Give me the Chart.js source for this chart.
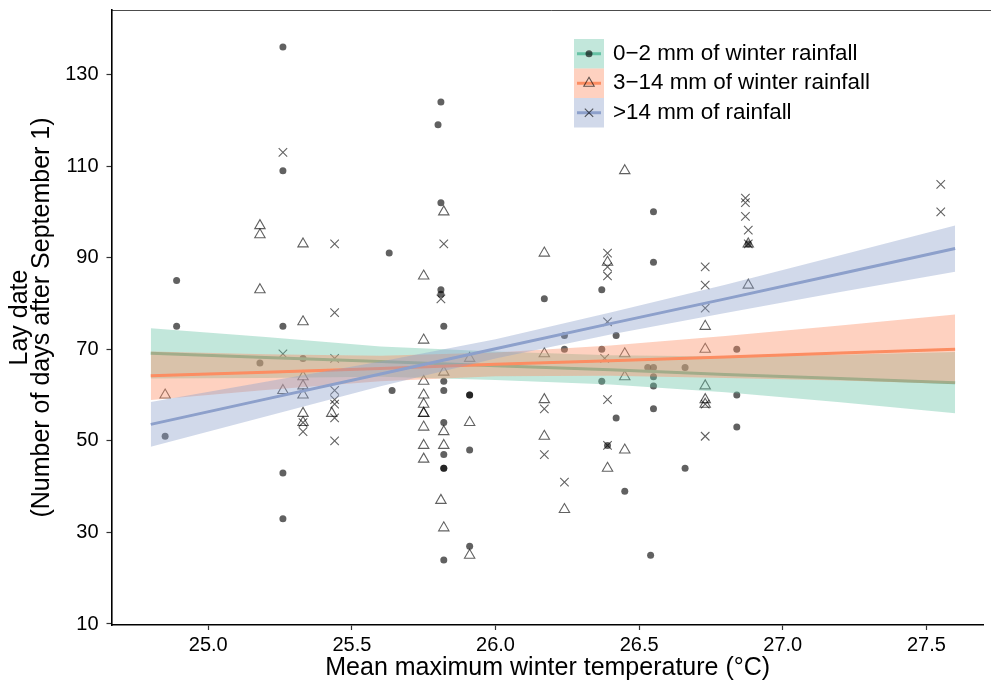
<!DOCTYPE html>
<html>
<head>
<meta charset="utf-8">
<script src="https://cdn.jsdelivr.net/npm/chart.js@4/dist/chart.umd.min.js"></script>
<style>
  html, body { margin: 0; padding: 0; background: #fff; }
  canvas { display: block; }
</style>
</head>
<body>
<canvas id="chart-laydate" width="991" height="684"></canvas>
<script>
// observed lay dates, one pair of arrays per rainfall class
const dryX = [24.89, 24.89, 24.85, 25.26, 25.26, 25.26, 25.26, 25.26, 25.18, 25.33,
  25.63, 25.64, 25.81, 25.80, 25.81, 25.81, 25.81, 25.82, 25.82, 25.82, 25.82, 25.82, 25.82, 25.82, 25.82,
  25.91, 25.91, 25.91, 25.91, 26.17, 26.24, 26.24,
  26.37, 26.37, 26.37, 26.39, 26.42, 26.42, 26.45,
  26.55, 26.55, 26.53, 26.55, 26.55, 26.55, 26.55, 26.54,
  26.66, 26.66, 26.84, 26.84, 26.84, 26.88]
const dryY = [85, 75, 51, 136, 109, 75, 43, 33, 67, 68,
  91, 61, 124, 119, 102, 83, 82, 75, 63, 61, 54, 47, 44, 44, 24,
  60, 60, 48, 27, 81, 73, 70,
  83, 70, 63, 49, 73, 55, 39,
  100, 89, 66, 66, 64, 62, 57, 25,
  66, 44, 70, 60, 53, 93]

const midX = [24.85, 25.18, 25.18, 25.18, 25.26,
  25.33, 25.33, 25.33, 25.33, 25.33, 25.33, 25.33, 25.43,
  25.75, 25.75, 25.75, 25.75, 25.75, 25.75, 25.75, 25.75, 25.75, 25.75,
  25.82, 25.82, 25.82, 25.82, 25.81, 25.82,
  25.91, 25.91, 25.91, 26.17, 26.17, 26.17, 26.17, 26.24,
  26.39, 26.39, 26.45, 26.45, 26.45, 26.45,
  26.73, 26.73, 26.73, 26.73, 26.73, 26.88, 26.88]
const midY = [60, 97, 95, 83, 61,
  93, 76, 64, 62, 60, 56, 54, 56,
  86, 72, 63, 60, 58, 56, 56, 53, 49, 46,
  100, 65, 52, 49, 37, 31,
  68, 54, 25, 91, 69, 59, 51, 35,
  89, 44, 109, 69, 64, 48,
  75, 70, 62, 59, 58, 93, 84]

const wetX = [25.26, 25.26, 25.33, 25.33,
  25.44, 25.44, 25.44, 25.44, 25.44, 25.44, 25.44, 25.44,
  25.82, 25.81, 26.17, 26.17, 26.24,
  26.39, 26.39, 26.39, 26.39, 26.38, 26.39, 26.39,
  26.73, 26.73, 26.73, 26.73, 26.73,
  26.87, 26.87, 26.87, 26.88, 26.88, 27.55, 27.55]
const wetY = [113, 69, 54, 52,
  93, 78, 68, 61, 59, 58, 55, 50,
  93, 81, 57, 47, 41,
  91, 88, 86, 76, 68, 59, 49,
  88, 84, 79, 58, 51,
  103, 102, 99, 96, 93, 106, 100]

// fitted lines and confidence bands, read at these temperatures
const fitX = [24.8, 25.2, 25.6, 26.0, 26.4, 26.8, 27.2, 27.6]
const dryFit = [69.1, 68.2, 67.3, 66.4, 65.5, 64.5, 63.6, 62.7]
const dryLo  = [63.6, 63.7, 64.0, 63.3, 62.3, 60.6, 58.4, 56.0]
const dryHi  = [74.6, 72.7, 70.6, 69.5, 68.7, 68.4, 68.8, 69.4]
const midFit = [64.2, 65.0, 65.8, 66.7, 67.5, 68.3, 69.2, 70.0]
const midLo  = [58.9, 61.1, 63.0, 64.1, 64.2, 63.7, 63.2, 62.4]
const midHi  = [69.5, 68.9, 68.6, 69.3, 70.8, 72.9, 75.2, 77.6]
const wetFit = [53.6, 59.1, 64.6, 70.1, 75.6, 81.0, 86.5, 92.0]
const wetLo  = [48.7, 55.3, 61.9, 68.0, 73.2, 77.9, 82.5, 86.9]
const wetHi  = [58.5, 62.9, 67.3, 72.2, 78.0, 84.1, 90.5, 97.0]

const xTicks = [25.0, 25.5, 26.0, 26.5, 27.0, 27.5]
const yTicks = [10, 30, 50, 70, 90, 110, 130]
const groupNames = ['0\u22122 mm of winter rainfall', '3\u221214 mm of winter rainfall', '>14 mm of rainfall']

const lineColors = ['#66C2A5', '#FC8D62', '#8DA0CB']
const bandColors = ['rgba(102,194,165,0.4)', 'rgba(252,141,98,0.4)', 'rgba(141,160,203,0.4)']
const ink = 'rgba(0,0,0,0.62)'

Chart.defaults.font.family = '"Liberation Sans", Arial, sans-serif'
Chart.defaults.color = '#000'

function pts(xs, ys){
  return xs.map((x, i) => ({x: x, y: ys[i]}))
}

function bandSets(lo, hi, color, order){
  return [
    {type: 'line', data: pts(fitX, hi), borderColor: 'rgba(0,0,0,0)', borderWidth: 0,
     pointRadius: 0, fill: '+1', backgroundColor: color, order: order},
    {type: 'line', data: pts(fitX, lo), borderColor: 'rgba(0,0,0,0)', borderWidth: 0,
     pointRadius: 0, fill: false, order: order}
  ]
}

function fitSet(ys, color, order){
  return {type: 'line', data: pts(fitX, ys), borderColor: color, borderWidth: 3,
    pointRadius: 0, fill: false, order: order}
}

// small drawing helpers for the key symbols
function markDot(ctx, x, y){
  ctx.fillStyle = ink
  ctx.beginPath(); ctx.arc(x, y, 3.5, 0, Math.PI*2); ctx.fill()
}
function markTri(ctx, x, y){
  const r = 6
  ctx.strokeStyle = ink; ctx.lineWidth = 1.1
  ctx.beginPath()
  ctx.moveTo(x, y - r)
  ctx.lineTo(x + r*0.866, y + r/2)
  ctx.lineTo(x - r*0.866, y + r/2)
  ctx.closePath(); ctx.stroke()
}
function markCross(ctx, x, y){
  const d = 4.2
  ctx.strokeStyle = ink; ctx.lineWidth = 1.1
  ctx.beginPath()
  ctx.moveTo(x - d, y - d); ctx.lineTo(x + d, y + d)
  ctx.moveTo(x + d, y - d); ctx.lineTo(x - d, y + d)
  ctx.stroke()
}

const keyPlugin = {
  id: 'groupKey',
  afterDraw(chart){
    const ctx = chart.ctx
    const area = chart.chartArea
    ctx.save()
    // thin frame line along the top
    ctx.strokeStyle = 'rgba(0,0,0,0.7)'
    ctx.lineWidth = 1
    ctx.beginPath(); ctx.moveTo(area.left, area.top + 0.5); ctx.lineTo(chart.width, area.top + 0.5); ctx.stroke()

    const x0 = 574, w = 30, h = 29.5, y0 = 39
    const marks = [markDot, markTri, markCross]
    for (let i = 0; i < 3; i++){
      const y = y0 + i*h
      const cy = y + h/2
      ctx.fillStyle = bandColors[i]
      ctx.fillRect(x0, y, w, h)
      ctx.strokeStyle = lineColors[i]
      ctx.lineWidth = 3
      ctx.beginPath(); ctx.moveTo(x0 + 3, cy); ctx.lineTo(x0 + w - 3, cy); ctx.stroke()
      marks[i](ctx, x0 + w/2, cy)
      ctx.fillStyle = '#000'
      ctx.font = '22.4px "Liberation Sans", Arial, sans-serif'
      ctx.textBaseline = 'middle'
      ctx.textAlign = 'left'
      ctx.fillText(groupNames[i], 613, cy)
    }
    ctx.restore()
  }
}

const datasets = [
  {type: 'scatter', data: pts(dryX, dryY), pointStyle: 'circle', pointRadius: 3.5,
   backgroundColor: ink, borderWidth: 0, order: 10},
  {type: 'scatter', data: pts(midX, midY), pointStyle: 'triangle', pointRadius: 6,
   backgroundColor: 'rgba(0,0,0,0)', borderColor: ink, borderWidth: 1.1, order: 10},
  {type: 'scatter', data: pts(wetX, wetY), pointStyle: 'crossRot', pointRadius: 6,
   backgroundColor: 'rgba(0,0,0,0)', borderColor: ink, borderWidth: 1.1, order: 10},
  ...bandSets(dryLo, dryHi, bandColors[0], 7),
  fitSet(dryFit, lineColors[0], 6),
  ...bandSets(midLo, midHi, bandColors[1], 5),
  fitSet(midFit, lineColors[1], 4),
  ...bandSets(wetLo, wetHi, bandColors[2], 3),
  fitSet(wetFit, lineColors[2], 2)
]

new Chart(document.getElementById('chart-laydate'), {
  type: 'scatter',
  data: {datasets: datasets},
  options: {
    responsive: false,
    animation: false,
    devicePixelRatio: 1,
    layout: {padding: {left: 0, right: 0, top: 10, bottom: 0}},
    plugins: {legend: {display: false}, tooltip: {enabled: false}},
    scales: {
      x: {
        type: 'linear', min: 24.6633, max: 27.7002,
        afterBuildTicks: s => { s.ticks = xTicks.map(v => ({value: v})) },
        afterFit: s => { s.height = 59; s.paddingLeft = 0; s.paddingRight = 0 },
        ticks: {callback: v => v.toFixed(1), font: {size: 20}, color: '#000', padding: 3, maxRotation: 0, autoSkip: false},
        grid: {display: true, drawOnChartArea: false, drawTicks: true, tickLength: 5, tickColor: '#333', tickWidth: 1.2},
        border: {display: true, color: '#000', width: 1.6},
        title: {display: true, text: 'Mean maximum winter temperature (\u00B0C)', font: {size: 25}, color: '#000', padding: {top: 0, bottom: 1}}
      },
      y: {
        type: 'linear', min: 9.78, max: 144.085,
        afterBuildTicks: s => { s.ticks = yTicks.map(v => ({value: v})) },
        afterFit: s => { s.width = 111.5; s.paddingTop = 0; s.paddingBottom = 0 },
        ticks: {font: {size: 20}, color: '#000', padding: 8, autoSkip: false},
        grid: {display: true, drawOnChartArea: false, drawTicks: true, tickLength: 5, tickColor: '#333', tickWidth: 1.2},
        border: {display: true, color: '#000', width: 1.6},
        title: {display: true, text: ['Lay date', '(Number of days after September 1)'], font: {size: 25, lineHeight: 0.88}, color: '#000', padding: {top: 9, bottom: 0}}
      }
    }
  },
  plugins: [keyPlugin]
})
</script>
</body>
</html>
